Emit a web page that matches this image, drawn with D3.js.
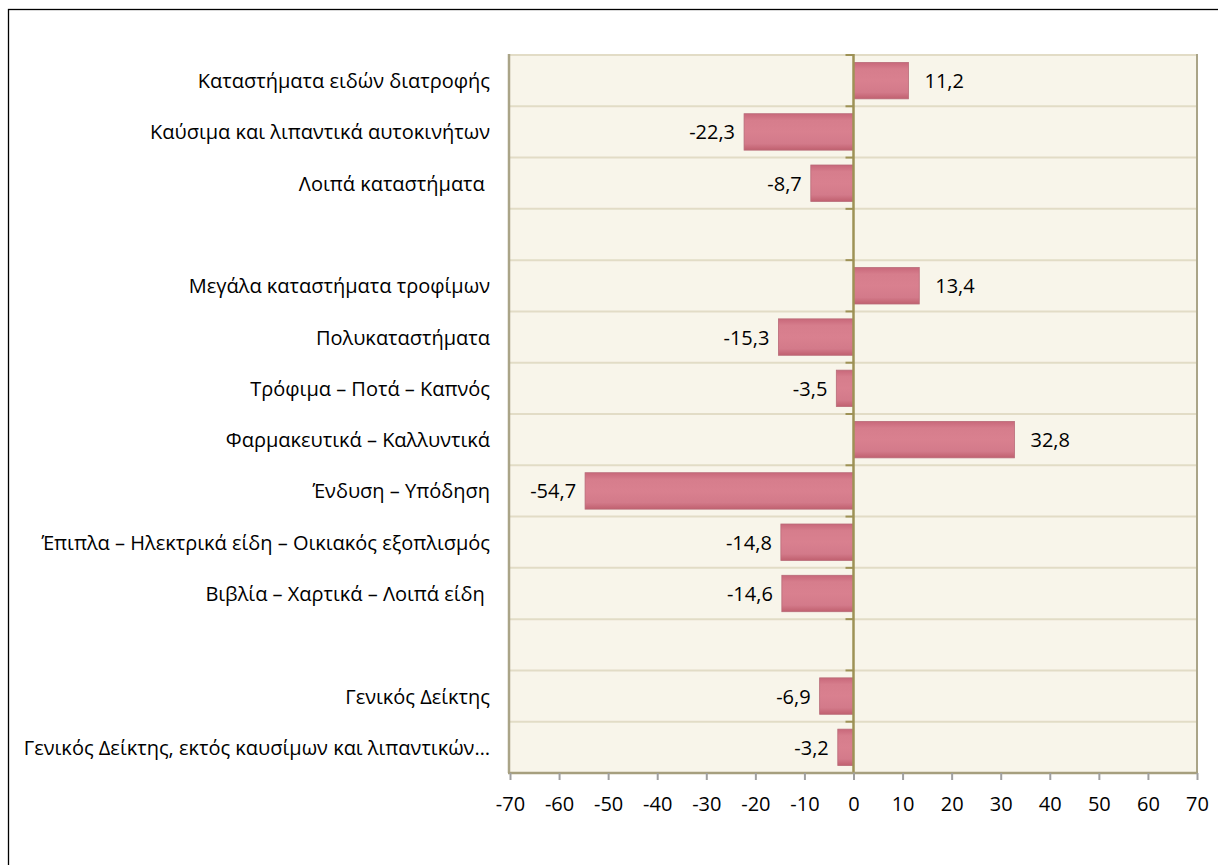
<!DOCTYPE html>
<html><head><meta charset="utf-8">
<script src="https://cdn.jsdelivr.net/npm/d3@7"></script>
<style>
html,body{margin:0;padding:0;background:#fff;}
text{font-family:"Open Sans","Noto Sans",sans-serif;fill:#000;white-space:pre;}
</style></head>
<body>
<svg id="chart" width="1218" height="865"></svg>
<script>
const categories = [
  "Καταστήματα ειδών διατροφής",
  "Καύσιμα και λιπαντικά αυτοκινήτων",
  "Λοιπά καταστήματα ",
  "",
  "Μεγάλα καταστήματα τροφίμων",
  "Πολυκαταστήματα",
  "Τρόφιμα – Ποτά – Καπνός",
  "Φαρμακευτικά – Καλλυντικά",
  "Ένδυση – Υπόδηση",
  "Έπιπλα – Ηλεκτρικά είδη – Οικιακός εξοπλισμός",
  "Βιβλία – Χαρτικά – Λοιπά είδη ",
  "",
  "Γενικός Δείκτης",
  "Γενικός Δείκτης, εκτός καυσίμων και λιπαντικών…"
];
const values = [11.2, -22.3, -8.7, null, 13.4, -15.3, -3.5, 32.8, -54.7, -14.8, -14.6, null, -6.9, -3.2];
const xTicks = [-70, -60, -50, -40, -30, -20, -10, 0, 10, 20, 30, 40, 50, 60, 70];

const svg = d3.select("#chart");
const W = 1218, H = 865;
const plot = {left: 510, right: 1197, top: 55, bottom: 773};
const FS = 20;

// outer frame
svg.append("rect").attr("x", 8.5).attr("y", 9.5).attr("width", W + 10).attr("height", H + 10)
  .attr("fill", "#fff").attr("stroke", "#000").attr("stroke-width", 1.3);

const x = d3.scaleLinear().domain([-70, 70]).range([plot.left, plot.right]);
const idx = categories.map((d, i) => i);
const y = d3.scaleBand().domain(idx).range([plot.top, plot.bottom]).paddingInner(0.29).paddingOuter(0.145);
const step = y.step();

const defs = svg.append("defs");
const grad = defs.append("linearGradient").attr("id", "barGrad").attr("x1", 0).attr("y1", 0).attr("x2", 0).attr("y2", 1);
grad.append("stop").attr("offset", "0%").attr("stop-color", "#c8687a");
grad.append("stop").attr("offset", "18%").attr("stop-color", "#d67d8c");
grad.append("stop").attr("offset", "50%").attr("stop-color", "#d9808f");
grad.append("stop").attr("offset", "82%").attr("stop-color", "#d37a8a");
grad.append("stop").attr("offset", "100%").attr("stop-color", "#c0606f");

// plot background
svg.append("rect").attr("x", plot.left).attr("y", plot.top)
  .attr("width", plot.right - plot.left).attr("height", plot.bottom - plot.top)
  .attr("fill", "#f8f5ea");

// horizontal gridlines at band boundaries
const bounds = d3.range(categories.length + 1).map(i => plot.top + i * step);
svg.append("g").selectAll("line").data(bounds.slice(0, -1)).join("line")
  .attr("x1", plot.left).attr("x2", plot.right)
  .attr("y1", d => d).attr("y2", d => d)
  .attr("stroke", "#e2dcc6").attr("stroke-width", 2);

// left & right plot border
svg.append("line").attr("x1", plot.left - 1).attr("x2", plot.left - 1).attr("y1", plot.top - 1).attr("y2", plot.bottom)
  .attr("stroke", "#aaa487").attr("stroke-width", 2.5);
svg.append("line").attr("x1", plot.right).attr("x2", plot.right).attr("y1", plot.top - 1).attr("y2", plot.bottom)
  .attr("stroke", "#aaa487").attr("stroke-width", 2);

// bars
const bars = categories.map((c, i) => ({i, c, v: values[i]})).filter(d => d.v !== null);
svg.append("g").selectAll("rect").data(bars).join("rect")
  .attr("x", d => x(Math.min(0, d.v)))
  .attr("y", d => y(d.i))
  .attr("width", d => Math.abs(x(d.v) - x(0)))
  .attr("height", y.bandwidth())
  .attr("fill", "url(#barGrad)")
  .attr("stroke", "#b86a78").attr("stroke-width", 0.8);

// zero axis with left ticks
svg.append("line").attr("x1", x(0)).attr("x2", x(0)).attr("y1", plot.top - 1).attr("y2", plot.bottom)
  .attr("stroke", "#9e9256").attr("stroke-width", 2.5);
svg.append("g").selectAll("line").data(bounds.slice(0, -1)).join("line")
  .attr("x1", x(0) - 8).attr("x2", x(0))
  .attr("y1", d => d).attr("y2", d => d)
  .attr("stroke", "#9e9256").attr("stroke-width", 2);

// bottom axis
const xAxis = d3.axisBottom(x).tickValues(xTicks).tickSize(7).tickPadding(17).tickFormat(d => String(d));
const gx = svg.append("g").attr("transform", `translate(0,${plot.bottom})`).call(xAxis);
gx.select(".domain").attr("stroke", "#a69f7e").attr("stroke-width", 2.5).attr("d", `M${plot.left - 2},0H${plot.right + 1}`);
gx.selectAll(".tick line").attr("stroke", "#a0a0a0").attr("stroke-width", 2);
gx.selectAll(".tick text").attr("font-size", FS).attr("font-family", "'Open Sans','Noto Sans',sans-serif").attr("fill", "#000");

// category labels
svg.append("g").selectAll("text").data(categories.map((c, i) => ({c, i})).filter(d => d.c !== "")).join("text")
  .attr("x", 490).attr("y", d => y(d.i) + y.bandwidth() / 2)
  .attr("text-anchor", "end").attr("dominant-baseline", "central")
  .attr("font-size", FS)
  .text(d => d.c);

// value labels
const fmt = v => v.toFixed(1).replace(".", ",");
svg.append("g").selectAll("text").data(bars).join("text")
  .attr("x", d => d.v >= 0 ? x(d.v) + 16 : x(d.v) - 9)
  .attr("y", d => y(d.i) + y.bandwidth() / 2)
  .attr("text-anchor", d => d.v >= 0 ? "start" : "end")
  .attr("dominant-baseline", "central")
  .attr("font-size", FS)
  .text(d => fmt(d.v));
</script>
</body></html>
